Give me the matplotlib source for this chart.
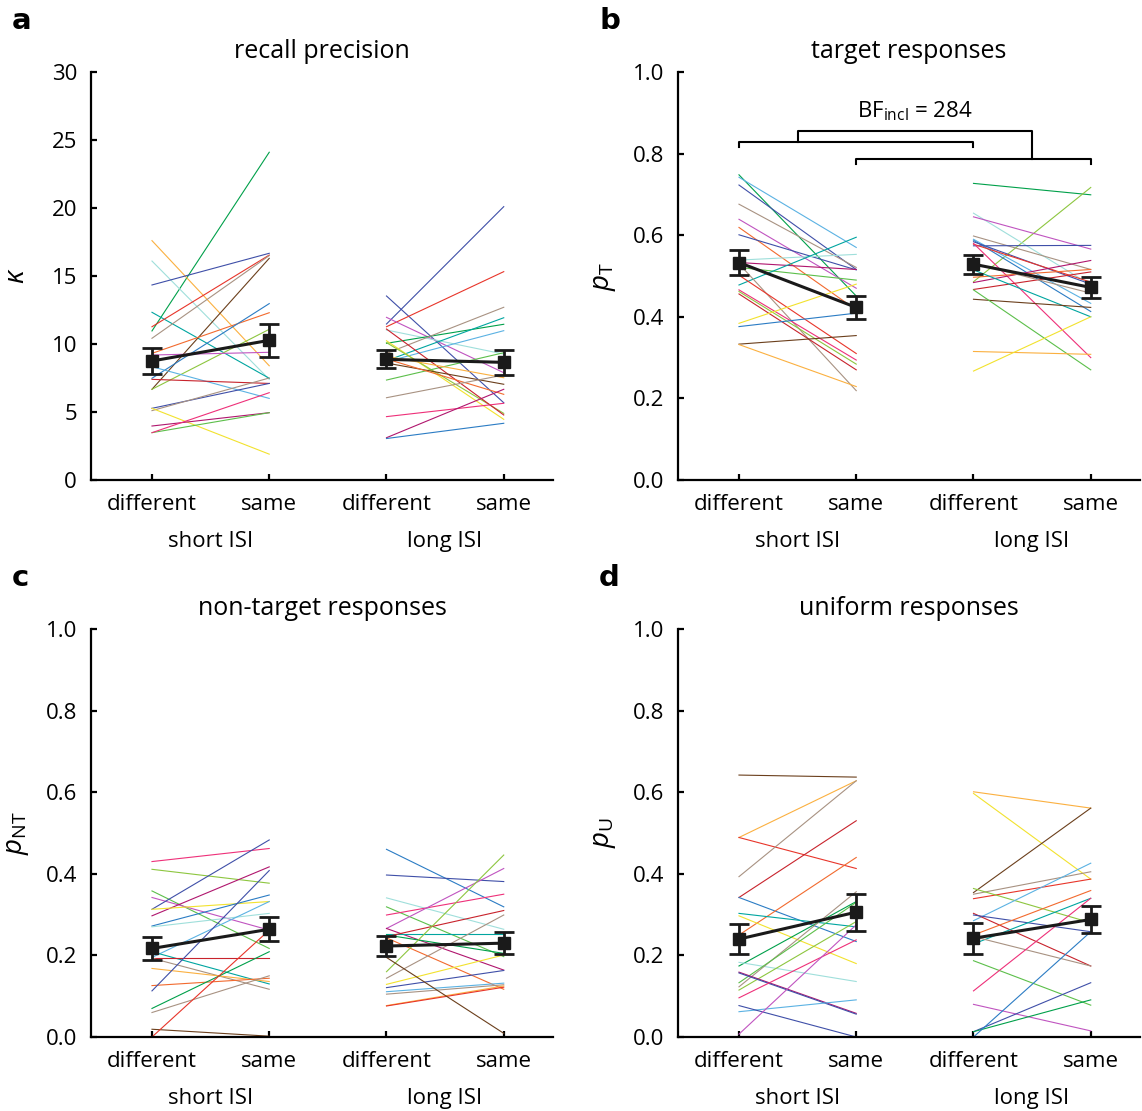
import matplotlib
matplotlib.use('Agg')
import matplotlib.pyplot as plt

plt.rcParams['font.family'] = ['Open Sans', 'DejaVu Sans']
plt.rcParams['mathtext.fontset'] = 'custom'
plt.rcParams['mathtext.rm'] = 'Open Sans'
plt.rcParams['mathtext.it'] = 'Open Sans:italic'

# colour names used for the subject lines
pal = {
    'green': '#00A04A', 'orange': '#FBB040', 'lcyan': '#9FDFDB', 'indigo': '#3F4FA8',
    'teal': '#00A5A0', 'red': '#E8352A', 'tan': '#A89282', 'brown': '#6B3F1C',
    'ored': '#F26A2E', 'sblue': '#2B7CC4', 'ygreen': '#8DC63F', 'purple': '#C054C0',
    'lblue': '#5BB2E3', 'yellow': '#F2E22E', 'mag': '#B0166E', 'pink': '#EE3079',
    'green2': '#5CBF4A', 'crimson': '#C8232C',
}

conds = ['different', 'same', 'different', 'same']
groups = ['short ISI', 'long ISI']

# a: recall precision (kappa)
kap_s_diff = [10.96, 17.6, 16.1, 14.34, 12.33, 11.27, 10.42, 6.67, 9.31, 7.48,
              6.67, 9.19, 8.33, 7.4, 5.27, 5.1, 5.27, 3.97, 3.48, 3.48]
kap_s_same = [24.1, 8.4, 7.4, 16.67, 7.48, 16.54, 16.5, 16.3, 12.3, 12.97,
              11.08, 9.39, 6.0, 7.1, 7.1, 7.5, 1.9, 4.95, 4.95, 6.42]
kap_s_col = ['green', 'orange', 'lcyan', 'indigo', 'teal', 'red', 'tan', 'brown', 'ored', 'sblue',
             'ygreen', 'purple', 'lblue', 'crimson', 'indigo', 'tan', 'yellow', 'mag', 'green2', 'pink']
kap_l_diff = [13.53, 11.47, 11.27, 11.96, 11.03, 10.05, 9.31, 8.77, 8.7, 10.24,
              10.1, 7.35, 11.1, 9.1, 8.6, 8.9, 6.05, 4.66, 3.11, 3.05]
kap_l_same = [5.68, 20.1, 15.32, 7.89, 9.26, 11.45, 12.7, 11.93, 10.98, 4.46,
              4.9, 9.36, 4.78, 7.52, 7.04, 6.3, 7.72, 5.64, 6.67, 4.17]
kap_l_col = ['indigo', 'indigo', 'red', 'purple', 'lcyan', 'green', 'tan', 'teal', 'lblue', 'yellow',
             'ygreen', 'green2', 'crimson', 'orange', 'brown', 'ored', 'tan', 'pink', 'mag', 'sblue']
kap_mean = [8.75, 10.27, 8.87, 8.65]
kap_sem = [0.93, 1.23, 0.67, 0.93]

# b: target responses
pt_s_diff = [.748, .742, .723, .676, .639, .619, .601, .539, .533, .521,
             .478, .53, .502, .466, .462, .456, .384, .376, .333, .332]
pt_s_same = [.451, .570, .516, .521, .47, .417, .515, .553, .516, .49,
             .595, .219, .31, .294, .284, .27, .48, .409, .354, .229]
pt_s_col = ['green', 'lblue', 'indigo', 'tan', 'purple', 'ored', 'indigo', 'lcyan', 'mag', 'green2',
            'teal', 'tan', 'red', 'pink', 'ygreen', 'crimson', 'yellow', 'sblue', 'brown', 'orange']
pt_l_diff = [.727, .486, .654, .645, .598, .574, .588, .59, .584, .578,
             .58, .484, .497, .467, .531, .515, .443, .466, .315, .267]
pt_l_same = [.699, .717, .478, .566, .516, .575, .413, .433, .48, .485,
             .30, .538, .516, .51, .458, .40, .423, .27, .308, .40]
pt_l_col = ['green', 'ygreen', 'lcyan', 'purple', 'tan', 'indigo', 'sblue', 'lblue', 'indigo', 'red',
            'pink', 'mag', 'ored', 'crimson', 'tan', 'teal', 'brown', 'green2', 'orange', 'yellow']
pt_mean = [0.533, 0.423, 0.529, 0.472]
pt_sem = [0.030, 0.028, 0.023, 0.026]

# c: non-target responses
pnt_s_diff = [.43, .411, .358, .342, .313, .297, .313, .272, .27, .195,
              .209, .193, .193, .168, .126, .113, .07, .06, .019, 0.0]
pnt_s_same = [.462, .377, .217, .262, .483, .417, .332, .348, .303, .332,
              .13, .193, .117, .136, .144, .408, .209, .15, .002, .262]
pnt_s_col = ['pink', 'ygreen', 'green2', 'purple', 'indigo', 'mag', 'yellow', 'sblue', 'lcyan', 'lblue',
             'teal', 'crimson', 'tan', 'orange', 'ored', 'indigo', 'green', 'tan', 'brown', 'red']
pnt_l_diff = [.46, .397, .341, .319, .299, .266, .266, .252, .25, .246,
              .243, .16, .144, .129, .121, .111, .105, .077, .076, .195]
pnt_l_same = [.319, .381, .264, .197, .35, .413, .164, .252, .205, .31,
              .117, .446, .299, .201, .163, .132, .128, .125, .122, .009]
pnt_l_col = ['sblue', 'indigo', 'lcyan', 'green2', 'pink', 'purple', 'mag', 'teal', 'green', 'crimson',
             'ored', 'ygreen', 'tan', 'yellow', 'indigo', 'lblue', 'tan', 'orange', 'red', 'brown']
pnt_mean = [0.217, 0.264, 0.223, 0.230]
pnt_sem = [0.029, 0.029, 0.024, 0.027]

# d: uniform responses
pu_s_diff = [.642, .489, .489, .393, .342, .342, .25, .303, .297, .174,
             .183, .123, .115, .133, .159, .157, .096, .062, .077, .007]
pu_s_same = [.637, .628, .413, .628, .53, .234, .44, .27, .18, .332,
             .136, .356, .283, .33, .058, .056, .238, .091, 0.0, .275]
pu_s_col = ['brown', 'orange', 'red', 'tan', 'crimson', 'sblue', 'ored', 'teal', 'yellow', 'green',
            'lcyan', 'tan', 'ygreen', 'green2', 'mag', 'indigo', 'pink', 'lblue', 'indigo', 'purple']
pu_l_diff = [.601, .597, .354, .35, .339, .364, .285, .303, .299, .25,
             .228, .246, .187, .113, .08, .013, .013, 0.0]
pu_l_same = [.561, .387, .561, .405, .387, .28, .426, .174, .258, .359,
             .34, .174, .078, .34, .015, .133, .091, .258]
pu_l_col = ['orange', 'yellow', 'brown', 'tan', 'red', 'ygreen', 'lblue', 'crimson', 'indigo', 'ored',
            'teal', 'tan', 'green2', 'pink', 'purple', 'indigo', 'green', 'sblue']
pu_mean = [0.240, 0.306, 0.242, 0.288]
pu_sem = [0.037, 0.045, 0.038, 0.033]

fig = plt.figure(figsize=(11.42, 11.11), dpi=100)

W, H = 1142, 1111
boxes = [(91, 72), (678, 72), (91, 629), (678, 629)]
ax_w, ax_h = 462, 408


def draw_panel(ax, s_diff, s_same, s_col, l_diff, l_same, l_col, mean, sem):
    for a, b, c in zip(s_diff, s_same, s_col):
        ax.plot([0, 1], [a, b], color=pal[c], lw=0.8, clip_on=False, zorder=2)
    for a, b, c in zip(l_diff, l_same, l_col):
        ax.plot([2, 3], [a, b], color=pal[c], lw=0.8, clip_on=False, zorder=2)
    for xs in ([0, 1], [2, 3]):
        ax.errorbar(xs, mean[xs[0]:xs[1] + 1], yerr=sem[xs[0]:xs[1] + 1], color='#1a1a1a',
                    lw=2.2, marker='s', ms=8, elinewidth=2, capsize=7, capthick=2, zorder=5)
    ax.set_xlim(-0.52, 3.42)
    ax.set_xticks([0, 1, 2, 3])
    ax.set_xticklabels(conds)
    for sp in ['top', 'right']:
        ax.spines[sp].set_visible(False)
    for sp in ['left', 'bottom']:
        ax.spines[sp].set_linewidth(1.6)
    ax.tick_params(direction='in', length=4, width=1.6, labelsize=16, pad=10)
    for i, g in enumerate(groups):
        ax.annotate(g, xy=(0.5 + 2 * i, 0), xycoords=('data', 'axes fraction'),
                    xytext=(0, -44), textcoords='offset points', ha='center', va='center',
                    fontsize=16)


axes = []
for (x0, y0) in boxes:
    axes.append(fig.add_axes([x0 / W, 1 - (y0 + ax_h) / H, ax_w / W, ax_h / H]))

ax1, ax2, ax3, ax4 = axes
draw_panel(ax1, kap_s_diff, kap_s_same, kap_s_col, kap_l_diff, kap_l_same, kap_l_col, kap_mean, kap_sem)
draw_panel(ax2, pt_s_diff, pt_s_same, pt_s_col, pt_l_diff, pt_l_same, pt_l_col, pt_mean, pt_sem)
draw_panel(ax3, pnt_s_diff, pnt_s_same, pnt_s_col, pnt_l_diff, pnt_l_same, pnt_l_col, pnt_mean, pnt_sem)
draw_panel(ax4, pu_s_diff, pu_s_same, pu_s_col, pu_l_diff, pu_l_same, pu_l_col, pu_mean, pu_sem)

ax1.set_ylim(0, 30)
ax1.set_yticks(range(0, 31, 5))
for ax in (ax2, ax3, ax4):
    ax.set_ylim(0, 1)
    ax.set_yticks([0, 0.2, 0.4, 0.6, 0.8, 1.0])
    ax.set_yticklabels(['0.0', '0.2', '0.4', '0.6', '0.8', '1.0'])

titles = ['recall precision', 'target responses', 'non-target responses', 'uniform responses']
ylabels = [r'$\kappa$', r'$p_{\mathrm{T}}$', r'$p_{\mathrm{NT}}$', r'$p_{\mathrm{U}}$']
letters = ['a', 'b', 'c', 'd']
for ax, t, yl, lt, (x0, y0) in zip(axes, titles, ylabels, letters, boxes):
    ax.set_title(t, fontsize=18, pad=10)
    ax.set_ylabel(yl, fontsize=20, labelpad=0)
    ax.yaxis.set_label_coords(-0.13, 0.5)
    fig.text((x0 - 79) / W, 1 - (y0 - 51) / H, lt, fontsize=21, fontweight='bold',
             ha='left', va='center', family='DejaVu Sans')

# Bayes factor bracket on panel b
bk = dict(color='black', lw=1.5, clip_on=False)
ax2.plot([0, 0, 2, 2], [0.817, 0.829, 0.829, 0.817], **bk)
ax2.plot([1, 1, 3, 3], [0.775, 0.786, 0.786, 0.775], **bk)
ax2.plot([0.5, 0.5, 2.5, 2.5], [0.829, 0.856, 0.856, 0.786], **bk)
ax2.text(1.5, 0.905, r'BF$_{\mathrm{incl}}$ = 284', ha='center', va='center', fontsize=16)

fig.savefig('out.png', dpi=100)
